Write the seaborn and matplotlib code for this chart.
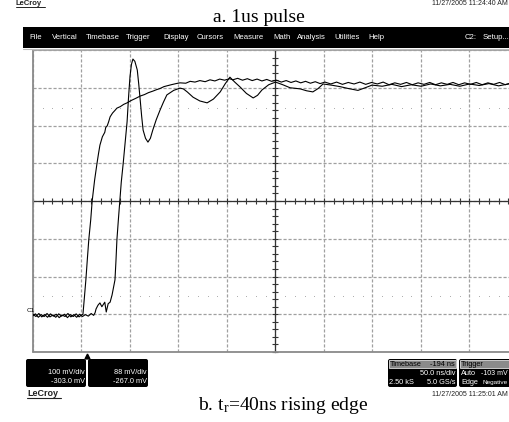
import numpy as np
import pandas as pd
import matplotlib
matplotlib.use("Agg")
import matplotlib.pyplot as plt
from matplotlib.ticker import MultipleLocator
from matplotlib.patches import Rectangle, FancyBboxPatch
import seaborn as sns

# ---------------- data (screen divisions: x -5..5, y -4..4) ----------------
c1_x = [-5.00, -4.95, -4.89, -4.83, -4.77, -4.71, -4.65, -4.59, -4.53, -4.47, -4.41, -4.35,
        -4.29, -4.23, -4.17, -4.11, -4.05, -4.00, -3.97, -3.94, -3.91, -3.88, -3.85, -3.81,
        -3.78, -3.73, -3.68, -3.65, -3.62, -3.57, -3.52, -3.50, -3.47, -3.44, -3.41, -3.36,
        -3.31, -3.27, -3.20, -3.13, -3.06, -2.98, -2.88, -2.79, -2.70, -2.62, -2.53, -2.45,
        -2.38, -2.30, -2.24, -2.15, -2.05, -1.97, -1.85, -1.76, -1.66, -1.56, -1.45, -1.35,
        -1.25, -1.15, -1.05, -0.95, -0.88, -0.78, -0.68, -0.58, -0.48, -0.38, -0.28, -0.18,
        -0.08, 0.02, 0.12, 0.22, 0.32, 0.42, 0.52, 0.62, 0.72, 0.82, 0.92, 1.02, 1.14, 1.26,
        1.38, 1.50, 1.62, 1.74, 1.86, 1.98, 2.10, 2.22, 2.34, 2.46, 2.58, 2.70, 2.82, 2.94,
        3.06, 3.18, 3.30, 3.42, 3.54, 3.66, 3.78, 3.90, 4.02, 4.14, 4.26, 4.38, 4.50, 4.62,
        4.74, 4.86, 5.00]
c1_y = [-3.04, -2.99, -3.08, -3.01, -3.06, -2.98, -3.07, -3.02, -3.08, -2.99, -3.05, -3.00,
        -3.09, -3.01, -3.06, -2.99, -3.07, -3.02, -3.00, -2.55, -2.09, -1.55, -1.03, -0.50,
        0.00, 0.55, 1.00, 1.25, 1.48, 1.70, 1.82, 1.95, 1.99, 2.10, 2.23, 2.33,
        2.40, 2.46, 2.50, 2.56, 2.60, 2.66, 2.72, 2.78, 2.82, 2.87, 2.91, 2.95,
        2.98, 3.03, 3.05, 3.08, 3.11, 3.13, 3.12, 3.17, 3.15, 3.19, 3.16, 3.21,
        3.18, 3.23, 3.20, 3.24, 3.21, 3.25, 3.20, 3.24, 3.19, 3.23, 3.18, 3.22,
        3.17, 3.20, 3.15, 3.19, 3.14, 3.18, 3.13, 3.17, 3.12, 3.16, 3.11, 3.15, 3.10, 3.15,
        3.09, 3.14, 3.10, 3.15, 3.09, 3.14, 3.10, 3.15, 3.08, 3.13, 3.09, 3.14, 3.08, 3.13,
        3.09, 3.14, 3.08, 3.13, 3.09, 3.14, 3.08, 3.13, 3.09, 3.14, 3.08, 3.13, 3.09, 3.14,
        3.08, 3.13, 3.10]

c2_x = [-5.00, -4.94, -4.88, -4.82, -4.76, -4.70, -4.64, -4.58, -4.52, -4.46, -4.40, -4.34,
        -4.28, -4.22, -4.16, -4.10, -4.04, -3.98, -3.92, -3.86, -3.80, -3.75, -3.72, -3.70,
        -3.66, -3.62, -3.58, -3.55, -3.52, -3.49, -3.45, -3.41, -3.37, -3.31, -3.29, -3.27,
        -3.24, -3.21, -3.18, -3.14, -3.10, -3.06, -3.03, -3.00, -2.97, -2.94, -2.90, -2.85,
        -2.82, -2.79, -2.76, -2.73, -2.68, -2.63, -2.58, -2.53, -2.46, -2.38, -2.31, -2.24,
        -2.10, -1.97, -1.90, -1.82, -1.70, -1.56, -1.41, -1.28, -1.14, -1.04, -0.94, -0.84,
        -0.73, -0.60, -0.46, -0.37, -0.28, -0.14, 0.00, 0.15, 0.30, 0.51, 0.64, 0.77, 0.88,
        0.98, 1.15, 1.33, 1.50, 1.70, 1.85, 1.99, 2.20, 2.40, 2.60, 2.80, 3.00, 3.20, 3.40,
        3.60, 3.80, 4.00, 4.20, 4.40, 4.60, 4.80, 5.00]
c2_y = [-3.00, -3.06, -2.98, -3.07, -3.01, -3.08, -2.99, -3.05, -3.00, -3.09, -3.02, -3.06,
        -2.98, -3.07, -3.01, -3.08, -3.00, -3.06, -3.01, -3.05, -2.98, -3.03, -2.96, -2.86,
        -2.76, -2.70, -2.80, -2.74, -2.68, -2.94, -2.72, -2.68, -2.49, -2.09, -1.60, -1.03,
        -0.50, 0.00, 0.50, 1.00, 1.55, 2.10, 2.75, 3.30, 3.62, 3.76, 3.70, 3.47,
        3.10, 2.68, 2.25, 1.88, 1.66, 1.56, 1.66, 1.88, 2.15, 2.41, 2.62, 2.81,
        2.93, 2.99, 2.97, 2.89, 2.75, 2.65, 2.60, 2.70, 2.89, 3.10, 3.28, 3.15,
        3.02, 2.85, 2.73, 2.80, 2.94, 3.08, 3.15, 3.08, 3.00, 2.97, 2.92, 2.89, 2.98,
        3.10, 3.07, 3.03, 2.98, 2.93, 3.00, 3.07, 3.04, 3.09, 3.03, 3.08, 3.04, 3.10, 3.05,
        3.09, 3.04, 3.10, 3.06, 3.11, 3.05, 3.10, 3.07]

guide_levels = [2.46, -2.52]

ch1_label = ["100 mV/div", "-303.0 mV"]
ch2_label = ["88 mV/div", "-267.0 mV"]
menu_items = ["File", "Vertical", "Timebase", "Trigger", "Display", "Cursors", "Measure",
              "Math", "Analysis", "Utilities", "Help"]

df = pd.concat([
    pd.DataFrame({"t": c1_x, "v": c1_y, "ch": "C1"}),
    pd.DataFrame({"t": c2_x, "v": c2_y, "ch": "C2"}),
])

# ---------------- style ----------------
sns.set_style("white")
plt.rcParams['font.family'] = ['Liberation Sans', 'DejaVu Sans']
plt.rcParams['mathtext.fontset'] = 'custom'
plt.rcParams['mathtext.rm'] = 'Liberation Serif'
plt.rcParams['mathtext.it'] = 'Liberation Serif:italic'

W, H = 510, 422
fig = plt.figure(figsize=(W / 100, H / 100), dpi=100)
fig.patch.set_facecolor("white")

ax = fig.add_axes([33 / W, 1 - 352 / H, 485 / W, 302 / H])

# dotted guide rows
dots_x = [v for v in np.arange(-5, 5.001, 0.2) if abs(v - round(v)) > 1e-6]
for lv in guide_levels:
    ax.plot(dots_x, [lv] * len(dots_x), ls="none", marker="s", ms=0.6, mew=0,
            color="#a8a8a8", zorder=2)

sns.lineplot(data=df, x="t", y="v", hue="ch", palette=["black", "black"], legend=False,
             estimator=None, sort=False, lw=0.8, ax=ax, zorder=4)

ax.set_xlim(-5, 5)
ax.set_ylim(-4, 4)
ax.set_facecolor("white")
ax.set_xlabel("")
ax.set_ylabel("")

# grid
ax.xaxis.set_major_locator(MultipleLocator(1))
ax.yaxis.set_major_locator(MultipleLocator(1))
ax.xaxis.set_minor_locator(MultipleLocator(0.2))
ax.yaxis.set_minor_locator(MultipleLocator(0.2))
ax.grid(True, which="major", color="#a0a0a0", ls=(0, (2.5, 1.5)), lw=0.9)
ax.set_axisbelow(True)

# center cross with ticks via spines
for s in ["top", "right"]:
    ax.spines[s].set_visible(False)
ax.spines["left"].set_position(("data", 0))
ax.spines["bottom"].set_position(("data", 0))
for s in ["left", "bottom"]:
    ax.spines[s].set_color("#333333")
    ax.spines[s].set_linewidth(0.9)
ax.tick_params(which="both", bottom=True, left=True, top=False, right=False,
               direction="inout", length=4, width=0.8, color="#333333",
               labelbottom=False, labelleft=False)

# frame
ax.plot([-5, -5], [-4, 4], color="#8a8a8a", lw=1.3, clip_on=False, zorder=3)
ax.plot([-5, 5], [4, 4], color="#a0a0a0", lw=1.3, clip_on=False, zorder=3)
ax.plot([-5, 5], [-4, -4], color="#8a8a8a", lw=1.3, clip_on=False, zorder=3)

# ---------------- overlay (pixel coordinates) ----------------
ov = fig.add_axes([0, 0, 1, 1], zorder=5)
ov.set_xlim(0, W)
ov.set_ylim(H, 0)
ov.axis("off")
ov.patch.set_visible(False)

# top header
ov.text(16, 0.3, "LeCroy", fontsize=5.5, fontweight="bold", color="#222", va="top",
        ha="left")
ov.plot([16, 45], [6.6, 6.6], color="#222", lw=0.7)
ov.text(508, 0.3, "11/27/2005 11:24:40 AM", fontsize=5, color="#222", ha="right",
        va="top")
ov.text(259, 17, "a. 1us pulse", fontsize=14, family="Liberation Serif", ha="center",
        va="center", color="black")

# menu bar
ov.add_patch(Rectangle((23, 27), 490, 21, fc="black", ec="none"))
menu_pos = [29, 52, 86, 126, 163, 197, 233, 273, 297, 334, 368]
for name, px in zip(menu_items, menu_pos):
    ov.text(px, 37.5, name, fontsize=5.6, color="white", ha="left", va="center")
ov.text(465, 37.5, "C2:", fontsize=5.6, color="white", ha="left", va="center")
ov.text(483, 37.5, "Setup...", fontsize=5.6, color="white", ha="left", va="center")
ov.plot([23, 510], [48.8, 48.8], color="#bbbbbb", lw=0.8)

# channel marker
ov.text(26.5, 311, "C1", fontsize=4.5, color="black", ha="left", va="center")

# trigger marker
ov.plot([87], [355.5], marker="^", ms=3.5, color="black")

# channel boxes
for x0, lines in [(26, ch1_label), (88, ch2_label)]:
    ov.add_patch(FancyBboxPatch((x0, 359), 60, 28,
                                boxstyle="round,pad=0,rounding_size=2",
                                fc="black", ec="none"))
    ov.text(x0 + 59, 373, lines[0], fontsize=5.3, color="white", ha="right", va="center")
    ov.text(x0 + 59, 381.5, lines[1], fontsize=5.3, color="white", ha="right", va="center")

# timebase box
ov.add_patch(FancyBboxPatch((388, 359), 69, 28, boxstyle="round,pad=0,rounding_size=2",
                            fc="black", ec="none"))
ov.add_patch(Rectangle((389, 360), 67, 8, fc="#8a8a8a", ec="white", lw=0.5))
ov.text(390, 364, "Timebase", fontsize=5.3, color="black", ha="left", va="center")
ov.text(455, 364, "-194 ns", fontsize=5.3, color="black", ha="right", va="center")
ov.text(456, 373.5, "50.0 ns/div", fontsize=5.3, color="white", ha="right", va="center")
ov.text(389, 382.5, "2.50 kS", fontsize=5.3, color="white", ha="left", va="center")
ov.text(456, 382.5, "5.0 GS/s", fontsize=5.3, color="white", ha="right", va="center")

# trigger box
ov.add_patch(FancyBboxPatch((459, 359), 60, 28, boxstyle="round,pad=0,rounding_size=2",
                            fc="black", ec="none"))
ov.add_patch(Rectangle((460, 360), 58, 8, fc="#8a8a8a", ec="white", lw=0.5))
ov.text(461, 364, "Trigger", fontsize=5.3, color="black", ha="left", va="center")
ov.text(461, 373.5, "Auto", fontsize=5.3, color="white", ha="left", va="center")
ov.text(508, 373.5, "-103 mV", fontsize=5.0, color="white", ha="right", va="center")
ov.text(461, 382.5, "Edge", fontsize=5.3, color="white", ha="left", va="center")
ov.text(508, 382.5, "Negative", fontsize=4.6, color="white", ha="right", va="center")

# bottom footer
ov.text(27, 393, "LeCroy", fontsize=6.5, fontweight="bold", color="#222", ha="left",
        va="center")
ov.plot([27, 61], [397.5, 397.5], color="#222", lw=0.8)
ov.text(508, 394, "11/27/2005 11:25:01 AM", fontsize=5.0, color="#222", ha="right",
        va="center")
ov.text(283, 406, r"b. t$_\mathrm{r}$=40ns rising edge", fontsize=14,
        family="Liberation Serif", ha="center", va="center", color="black")

fig.savefig("out.png", dpi=100, facecolor="white")
